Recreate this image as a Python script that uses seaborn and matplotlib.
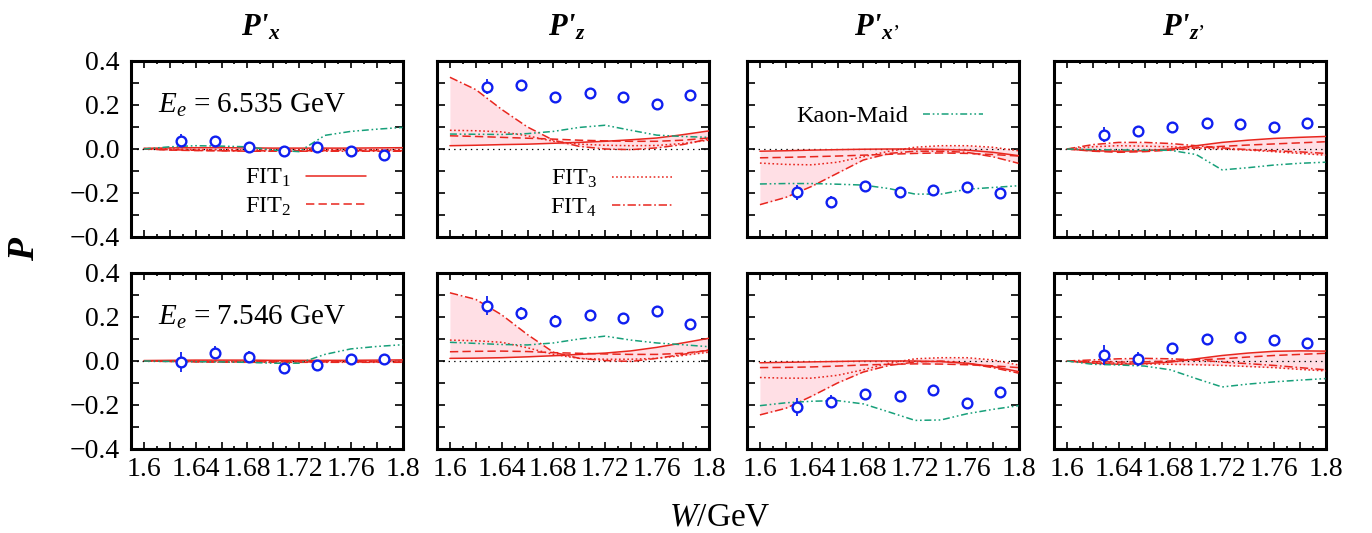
import numpy as np
import pandas as pd
import matplotlib
matplotlib.use("Agg")
import matplotlib.pyplot as plt
import seaborn as sns
from matplotlib.lines import Line2D
from matplotlib.ticker import MultipleLocator, FixedLocator, FuncFormatter

# ---------------- data ----------------
W_curve = [1.60, 1.62, 1.64, 1.66, 1.68, 1.70, 1.72, 1.74, 1.76, 1.78, 1.80]
W_data = [1.629, 1.655, 1.681, 1.708, 1.734, 1.760, 1.786]

panel_titles = ["P'$_{\\mathbfit{x}}$", "P'$_{\\mathbfit{z}}$",
                "P'$_{\\mathbfit{x}\u2019}$", "P'$_{\\mathbfit{z}\u2019}$"]
energies = ["6.535", "7.546"]

# Row 1 (E = 6.535 GeV)
r1c1_fit1 = [0.003, 0.005, 0.006, 0.006, 0.005, 0.004, 0.004, 0.004, 0.004, 0.005, 0.006]
r1c1_fit2 = [0.000, -0.005, -0.007, -0.008, -0.008, -0.008, -0.008, -0.007, -0.007, -0.007, -0.008]
r1c1_fit3 = [0.002, 0.000, -0.002, -0.003, -0.004, -0.004, -0.004, -0.004, -0.004, -0.004, -0.004]
r1c1_fit4 = [0.000, -0.003, -0.006, -0.008, -0.010, -0.010, -0.010, -0.010, -0.010, -0.010, -0.010]
r1c1_km = [0.000, 0.010, 0.015, 0.013, 0.010, -0.005, -0.012, 0.062, 0.080, 0.090, 0.098]
r1c1_P = [0.038, 0.038, 0.010, -0.008, 0.010, -0.010, -0.029]
r1c1_err = [0.030, 0.018, 0.012, 0.012, 0.012, 0.012, 0.012]

r1c2_fit1 = [0.015, 0.017, 0.020, 0.022, 0.026, 0.030, 0.035, 0.042, 0.050, 0.065, 0.082]
r1c2_fit2 = [0.060, 0.057, 0.053, 0.049, 0.045, 0.040, 0.037, 0.035, 0.035, 0.040, 0.050]
r1c2_fit3 = [0.085, 0.083, 0.078, 0.060, 0.035, 0.022, 0.017, 0.015, 0.016, 0.025, 0.040]
r1c2_fit4 = [0.326, 0.270, 0.180, 0.100, 0.040, 0.012, 0.000, -0.003, 0.005, 0.020, 0.045]
r1c2_km = [0.068, 0.067, 0.066, 0.070, 0.080, 0.098, 0.108, 0.085, 0.063, 0.057, 0.053]
r1c2_P = [0.283, 0.291, 0.235, 0.253, 0.236, 0.205, 0.244]
r1c2_err = [0.035, 0.020, 0.015, 0.015, 0.015, 0.012, 0.015]

r1c3_fit1 = [-0.010, -0.008, -0.005, -0.003, -0.001, 0.000, 0.000, -0.002, -0.005, -0.015, -0.030]
r1c3_fit2 = [-0.040, -0.038, -0.035, -0.032, -0.028, -0.024, -0.020, -0.018, -0.020, -0.025, -0.032]
r1c3_fit3 = [-0.064, -0.070, -0.072, -0.060, -0.035, -0.010, 0.008, 0.015, 0.015, 0.008, -0.008]
r1c3_fit4 = [-0.253, -0.220, -0.170, -0.110, -0.050, -0.020, -0.010, -0.010, -0.015, -0.035, -0.065]
r1c3_km = [-0.159, -0.157, -0.157, -0.160, -0.164, -0.180, -0.205, -0.205, -0.183, -0.175, -0.167]
r1c3_P = [-0.197, -0.240, -0.167, -0.197, -0.186, -0.174, -0.198]
r1c3_err = [0.035, 0.025, 0.018, 0.015, 0.018, 0.015, 0.015]

r1c4_fit1 = [0.000, -0.008, -0.010, -0.008, 0.000, 0.015, 0.030, 0.040, 0.048, 0.053, 0.057]
r1c4_fit2 = [0.000, -0.010, -0.015, -0.012, -0.005, 0.005, 0.012, 0.018, 0.023, 0.028, 0.033]
r1c4_fit3 = [0.000, 0.010, 0.015, 0.013, 0.010, 0.005, 0.000, -0.005, -0.012, -0.020, -0.028]
r1c4_fit4 = [0.000, 0.020, 0.030, 0.030, 0.025, 0.015, 0.005, -0.003, -0.008, -0.013, -0.020]
r1c4_km = [0.000, -0.003, -0.004, -0.005, -0.006, -0.025, -0.095, -0.085, -0.073, -0.065, -0.060]
r1c4_P = [0.065, 0.080, 0.098, 0.117, 0.114, 0.101, 0.118]
r1c4_err = [0.035, 0.022, 0.015, 0.015, 0.015, 0.012, 0.012]

# Row 2 (E = 7.546 GeV)
r2c1_fit1 = [0.002, 0.003, 0.004, 0.004, 0.004, 0.003, 0.003, 0.003, 0.003, 0.004, 0.005]
r2c1_fit2 = [0.000, -0.002, -0.003, -0.004, -0.004, -0.004, -0.004, -0.004, -0.004, -0.004, -0.005]
r2c1_fit3 = [0.001, 0.000, -0.001, -0.002, -0.002, -0.002, -0.002, -0.002, -0.002, -0.002, -0.002]
r2c1_fit4 = [0.000, -0.002, -0.004, -0.005, -0.006, -0.006, -0.006, -0.006, -0.006, -0.006, -0.006]
r2c1_km = [0.000, -0.002, -0.003, -0.004, -0.006, -0.010, -0.010, 0.030, 0.055, 0.066, 0.074]
r2c1_P = [-0.003, 0.038, 0.020, -0.033, -0.017, 0.009, 0.008]
r2c1_err = [0.045, 0.030, 0.025, 0.020, 0.020, 0.020, 0.020]

r2c2_fit1 = [0.012, 0.013, 0.015, 0.019, 0.024, 0.030, 0.036, 0.046, 0.062, 0.082, 0.103]
r2c2_fit2 = [0.042, 0.044, 0.045, 0.043, 0.038, 0.035, 0.032, 0.030, 0.030, 0.035, 0.048]
r2c2_fit3 = [0.095, 0.092, 0.085, 0.060, 0.030, 0.012, 0.008, 0.008, 0.012, 0.025, 0.040]
r2c2_fit4 = [0.310, 0.280, 0.210, 0.120, 0.040, 0.012, 0.002, -0.002, 0.012, 0.030, 0.050]
r2c2_km = [0.085, 0.080, 0.075, 0.073, 0.082, 0.100, 0.113, 0.095, 0.082, 0.074, 0.065]
r2c2_P = [0.252, 0.217, 0.183, 0.208, 0.197, 0.229, 0.167]
r2c2_err = [0.045, 0.030, 0.025, 0.020, 0.020, 0.020, 0.025]

r2c3_fit1 = [-0.008, -0.006, -0.004, -0.002, 0.000, 0.000, 0.000, -0.003, -0.010, -0.025, -0.048]
r2c3_fit2 = [-0.030, -0.029, -0.027, -0.023, -0.018, -0.015, -0.013, -0.014, -0.017, -0.022, -0.030]
r2c3_fit3 = [-0.075, -0.078, -0.078, -0.065, -0.040, -0.010, 0.010, 0.015, 0.015, 0.005, -0.018]
r2c3_fit4 = [-0.245, -0.215, -0.160, -0.100, -0.050, -0.020, -0.005, 0.000, -0.010, -0.030, -0.055]
r2c3_km = [-0.203, -0.190, -0.183, -0.180, -0.195, -0.232, -0.270, -0.268, -0.240, -0.220, -0.203]
r2c3_P = [-0.208, -0.185, -0.150, -0.159, -0.133, -0.190, -0.140]
r2c3_err = [0.040, 0.030, 0.025, 0.020, 0.020, 0.020, 0.020]

r2c4_fit1 = [0.000, -0.010, -0.015, -0.012, -0.005, 0.010, 0.025, 0.036, 0.044, 0.046, 0.045]
r2c4_fit2 = [0.000, -0.003, -0.005, -0.004, 0.000, 0.005, 0.010, 0.018, 0.025, 0.030, 0.035]
r2c4_fit3 = [0.000, -0.005, -0.010, -0.013, -0.015, -0.017, -0.020, -0.025, -0.030, -0.038, -0.045]
r2c4_fit4 = [0.000, 0.005, 0.010, 0.012, 0.010, 0.005, -0.005, -0.012, -0.020, -0.030, -0.040]
r2c4_km = [0.000, -0.015, -0.018, -0.023, -0.040, -0.080, -0.118, -0.105, -0.095, -0.087, -0.080]
r2c4_P = [0.027, 0.009, 0.059, 0.098, 0.108, 0.094, 0.082]
r2c4_err = [0.045, 0.030, 0.020, 0.020, 0.020, 0.015, 0.015]

panels = [
    [(r1c1_fit1, r1c1_fit2, r1c1_fit3, r1c1_fit4, r1c1_km, r1c1_P, r1c1_err),
     (r1c2_fit1, r1c2_fit2, r1c2_fit3, r1c2_fit4, r1c2_km, r1c2_P, r1c2_err),
     (r1c3_fit1, r1c3_fit2, r1c3_fit3, r1c3_fit4, r1c3_km, r1c3_P, r1c3_err),
     (r1c4_fit1, r1c4_fit2, r1c4_fit3, r1c4_fit4, r1c4_km, r1c4_P, r1c4_err)],
    [(r2c1_fit1, r2c1_fit2, r2c1_fit3, r2c1_fit4, r2c1_km, r2c1_P, r2c1_err),
     (r2c2_fit1, r2c2_fit2, r2c2_fit3, r2c2_fit4, r2c2_km, r2c2_P, r2c2_err),
     (r2c3_fit1, r2c3_fit2, r2c3_fit3, r2c3_fit4, r2c3_km, r2c3_P, r2c3_err),
     (r2c4_fit1, r2c4_fit2, r2c4_fit3, r2c4_fit4, r2c4_km, r2c4_P, r2c4_err)],
]

# ---------------- style ----------------
sns.set_theme(style="ticks")
plt.rcParams["font.family"] = ["Liberation Serif", "DejaVu Serif"]
plt.rcParams["mathtext.fontset"] = "custom"
plt.rcParams["mathtext.rm"] = "Liberation Serif"
plt.rcParams["mathtext.it"] = "Liberation Serif:italic"
plt.rcParams["mathtext.bf"] = "Liberation Serif:bold"
plt.rcParams["mathtext.bfit"] = "Liberation Serif:italic:bold"
plt.rcParams["lines.scale_dashes"] = False
for k in ["text.color", "axes.labelcolor", "xtick.color", "ytick.color", "axes.edgecolor"]:
    plt.rcParams[k] = "black"

RED = "#e8261e"
GREEN = "#17a07a"
BLUE = "#1020f0"
BAND = "#ffdfe5"
LW = 1.1
styles = {
    "fit1": "-",
    "fit2": (0, (6, 3)),
    "fit3": (0, (1.2, 1.8)),
    "fit4": (0, (6, 2, 1.2, 2)),
    "km": (0, (5, 2, 1.2, 2, 1.2, 2)),
}

fig = plt.figure(figsize=(13.72, 5.33), dpi=100)
lefts = [131, 437, 747, 1054]
tops = [61, 273]
W_px, H_px = 271.5, 176

def fmt_y(v, pos):
    s = f"{v:.1f}"
    if s == "-0.0":
        s = "0.0"
    return s.replace("-", "\u2212")

def fmt_x(v, pos):
    k = int(round((v - 1.6) / 0.02))
    if k % 2:
        return ""
    return f"{v:.2f}".rstrip("0")

for r in range(2):
    for c in range(4):
        f1, f2, f3, f4, km, P, err = panels[r][c]
        ax = fig.add_axes([lefts[c] / 1372, (533 - tops[r] - H_px) / 533,
                           W_px / 1372, H_px / 533])
        fits = np.array([f1, f2, f3, f4])
        ax.fill_between(W_curve, fits.min(axis=0), fits.max(axis=0),
                        color=BAND, lw=0, zorder=1)
        ax.axhline(0, color="black", lw=0.9, ls=(0, (1, 3)), zorder=2)
        for vals, key, col in [(f1, "fit1", RED), (f2, "fit2", RED),
                               (f3, "fit3", RED), (f4, "fit4", RED),
                               (km, "km", GREEN)]:
            sns.lineplot(x=W_curve, y=vals, ax=ax, color=col, linestyle=styles[key],
                         linewidth=LW, errorbar=None, sort=False, zorder=3)
        ax.errorbar(W_data, P, yerr=err, fmt="o", ms=7, mfc="white",
                    mec=BLUE, mew=1.7, ecolor=BLUE, elinewidth=1.3,
                    capsize=0, zorder=5)

        ax.set_xlim(1.59, 1.8)
        ax.set_ylim(-0.4, 0.4)
        ax.xaxis.set_major_locator(FixedLocator(np.round(np.arange(1.60, 1.801, 0.02), 2)))
        ax.xaxis.set_minor_locator(FixedLocator(np.round(np.arange(1.61, 1.80, 0.02), 2)))
        ax.yaxis.set_major_locator(MultipleLocator(0.2))
        ax.yaxis.set_minor_locator(MultipleLocator(0.1))
        ax.tick_params(axis="both", which="both", direction="in", top=True,
                       right=True, width=1.2, color="black", labelcolor="black")
        ax.tick_params(axis="x", which="major", length=5, labelsize=20, pad=6)
        ax.tick_params(axis="x", which="minor", length=2.5)
        ax.tick_params(axis="y", which="both", length=6, labelsize=20, pad=8)
        ax.yaxis.set_major_formatter(FuncFormatter(fmt_y))
        ax.xaxis.set_major_formatter(FuncFormatter(fmt_x))
        if r == 0:
            ax.tick_params(axis="x", labelbottom=False)
        if c > 0:
            ax.tick_params(axis="y", labelleft=False)
        for sp in ax.spines.values():
            sp.set_linewidth(2.2)
            sp.set_color("black")
        ax.set_xlabel("")
        ax.set_ylabel("")

        if c == 0:
            ax.text(0.1, 0.75, "$E_e$ = " + energies[r] + " GeV",
                    transform=ax.transAxes, fontsize=21, va="center", ha="left")
        if r == 0 and c == 0:
            h = [Line2D([], [], color=RED, lw=LW, ls=styles["fit1"]),
                 Line2D([], [], color=RED, lw=LW, ls=styles["fit2"])]
            ax.legend(h, ["FIT$_1$", "FIT$_2$"], loc="center right",
                      bbox_to_anchor=(0.867, 0.253), frameon=False,
                      markerfirst=False, handlelength=2.5, handletextpad=0.6,
                      labelspacing=0.25, borderpad=0, borderaxespad=0, fontsize=17.5)
        if r == 0 and c == 1:
            h = [Line2D([], [], color=RED, lw=LW, ls=styles["fit3"]),
                 Line2D([], [], color=RED, lw=LW, ls=styles["fit4"])]
            ax.legend(h, ["FIT$_3$", "FIT$_4$"], loc="center right",
                      bbox_to_anchor=(0.868, 0.247), frameon=False,
                      markerfirst=False, handlelength=2.5, handletextpad=0.6,
                      labelspacing=0.25, borderpad=0, borderaxespad=0, fontsize=17.5)
        if r == 0 and c == 2:
            h = [Line2D([], [], color=GREEN, lw=LW, ls=styles["km"])]
            ax.legend(h, ["Kaon-Maid"], loc="center right",
                      bbox_to_anchor=(0.871, 0.6875), frameon=False,
                      markerfirst=False, handlelength=2.5, handletextpad=0.6,
                      borderpad=0, borderaxespad=0, fontsize=17.5)
        if r == 0:
            fig.text((lefts[c] + W_px / 2 - 6) / 1372, 1 - 28 / 533, panel_titles[c],
                     ha="center", va="center", fontsize=22, fontstyle="italic",
                     fontweight="bold")

fig.text(25 / 1372, 1 - 250 / 533, "P", rotation=90, ha="center", va="center",
         fontsize=27, fontstyle="italic", fontweight="bold")
fig.text(720 / 1372, 1 - 517 / 533, "$W$/GeV", ha="center", va="center", fontsize=24)

fig.savefig("out.png", dpi=100)
